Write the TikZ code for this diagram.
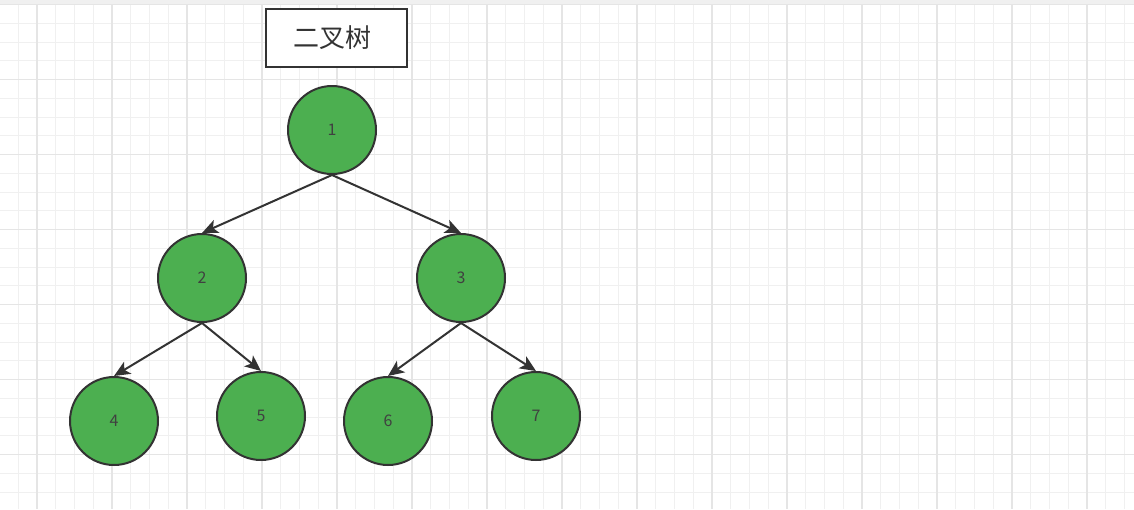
\documentclass[tikz,border=0pt]{standalone}
\usepackage{fontspec}
\newfontfamily\cjk{Noto Sans CJK SC}
\usepackage{xcolor}
\usetikzlibrary{arrows.meta}

\definecolor{nodegreen}{RGB}{76,175,80}
\definecolor{edgegray}{RGB}{51,51,51}

\begin{document}
\begin{tikzpicture}[
    x=0.5pt, y=-0.5pt,
    minor/.style={draw=black!6, line width=0.5pt},
    major/.style={draw=black!10, line width=0.6pt},
    treenode/.style={circle, draw=edgegray, line width=1pt, fill=nodegreen, minimum size=44pt, inner sep=0pt, text=black!75, font=\cjk\fontsize{8}{10}\selectfont},
    titlebox/.style={rectangle, draw=edgegray, line width=1pt, fill=white, minimum width=70.5pt, minimum height=29pt, text=black!80, font=\cjk\fontsize{13}{15}\selectfont},
    arrow/.style={line width=1pt, draw=edgegray, -{Stealth[length=8pt,width=7pt,inset=2pt]}}
]
\useasboundingbox (0,0) rectangle (1134,509);

% Grid
\fill[white] (0,0) rectangle (1134,509);
\foreach \x in {18.25,37,...,1134} \draw[minor] (\x,0) -- (\x,509);
\foreach \y in {4.5,23.25,...,509} \draw[minor] (0,\y) -- (1134,\y);
\foreach \x in {37,112,...,1134} \draw[major] (\x,0) -- (\x,509);
\foreach \y in {4.5,79.5,...,509} \draw[major] (0,\y) -- (1134,\y);
\fill[black!6] (0,0) rectangle (1134,4);

% Title
\node (title) [titlebox] at (336.5,38) {\kern-4pt二叉树};

% Tree
\node (n1) [treenode] at (332,130) {1};
\node (n2) [treenode] at (202,278) {2};
\node (n3) [treenode] at (461,278) {3};
\node (n4) [treenode] at (114,421) {4};
\node (n5) [treenode] at (261,416) {5};
\node (n6) [treenode] at (388,421) {6};
\node (n7) [treenode] at (536,416) {7};

\draw [arrow] (n1.south) -- (n2.north);
\draw [arrow] (n1.south) -- (n3.north);
\draw [arrow] (n2.south) -- (n4.north);
\draw [arrow] (n2.south) -- (n5.north);
\draw [arrow] (n3.south) -- (n6.north);
\draw [arrow] (n3.south) -- (n7.north);

\end{tikzpicture}
\end{document}
